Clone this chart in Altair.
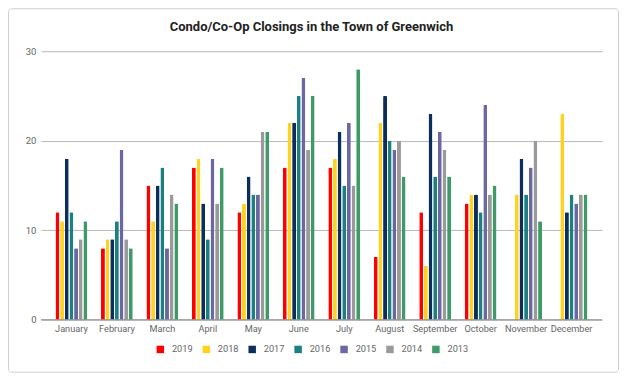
import altair as alt
import pandas as pd

months = ["January", "February", "March", "April", "May", "June",
          "July", "August", "September", "October", "November", "December"]
years = ["2019", "2018", "2017", "2016", "2015", "2014", "2013"]
colors = ["#ff0000", "#ffd21f", "#0b2e5e", "#1a8080", "#6b67a3", "#9a9a9a", "#3e9b67"]
title_text = "Condo/Co-Op Closings in the Town of Greenwich"

v2019 = [12, 8, 15, 17, 12, 17, 17, 7, 12, 13, None, None]
v2018 = [11, 9, 11, 18, 13, 22, 18, 22, 6, 14, 14, 23]
v2017 = [18, 9, 15, 13, 16, 22, 21, 25, 23, 14, 18, 12]
v2016 = [12, 11, 17, 9, 14, 25, 15, 20, 16, 12, 14, 14]
v2015 = [8, 19, 8, 18, 14, 27, 22, 19, 21, 24, 17, 13]
v2014 = [9, 9, 14, 13, 21, 19, 15, 20, 19, 14, 20, 14]
v2013 = [11, 8, 13, 17, 21, 25, 28, 16, 16, 15, 11, 14]

series = [v2019, v2018, v2017, v2016, v2015, v2014, v2013]
rows = []
for y, vals in zip(years, series):
    for m, v in zip(months, vals):
        if v is not None:
            rows.append({"Month": m, "Year": y, "Closings": v})
df = pd.DataFrame(rows)

W, H = 562, 269
PL, PT = 33, 43
PR, PB = 17, 53

FONT = "Roboto"

bars = alt.Chart(df).mark_bar(cornerRadiusTopLeft=1, cornerRadiusTopRight=1).encode(
    x=alt.X("Month:N", sort=months, title=None,
            scale=alt.Scale(paddingInner=0.3, paddingOuter=0.32),
            axis=alt.Axis(labelAngle=0, ticks=False, domain=False,
                          labelFontSize=9.2, labelColor="#666", labelFont=FONT,
                          labelPadding=5)),
    xOffset=alt.XOffset("Year:N", sort=years, scale=alt.Scale(paddingInner=0.15)),
    y=alt.Y("Closings:Q", title=None,
            scale=alt.Scale(domain=[0, 30]),
            axis=alt.Axis(values=[0, 10, 20, 30], ticks=False, domain=False,
                          labelFontSize=9.5, labelColor="#666", labelFont=FONT,
                          labelPadding=5, gridColor="#b8b8b8", gridWidth=1)),
    color=alt.Color("Year:N", sort=years,
                    scale=alt.Scale(domain=years, range=colors),
                    legend=alt.Legend(title=None, orient="none", direction="horizontal",
                                      legendX=115, legendY=294, symbolType="square",
                                      symbolSize=56, symbolStrokeWidth=0,
                                      labelFontSize=9.2, labelColor="#666", labelFont=FONT,
                                      labelOffset=7, columnPadding=9, padding=0)),
)

baseline = alt.Chart(pd.DataFrame({"y": [0]})).mark_rule(color="#888", strokeWidth=1).encode(
    y="y:Q", x=alt.value(0), x2=alt.value(W)
)

border = alt.Chart(pd.DataFrame({"a": [0]})).mark_rect(
    fill="transparent", stroke="#cfcfcf", strokeWidth=1, cornerRadius=3
).encode(
    x=alt.value(-PL + 0.5), x2=alt.value(W + PR - 0.5),
    y=alt.value(-PT + 0.5), y2=alt.value(H + PB - 0.5)
)

title = alt.Chart(pd.DataFrame({"t": [title_text]})).mark_text(
    font=FONT, fontSize=13, fontWeight="bold", color="#222",
    align="center", baseline="middle"
).encode(text="t:N", x=alt.value(271), y=alt.value(-24))

chart = alt.layer(border, bars, baseline, title).properties(
    width=W, height=H,
    autosize=alt.AutoSizeParams(type="none"),
    padding={"left": PL, "top": PT, "right": PR, "bottom": PB},
).configure_view(stroke=None)

chart.save("out.html", embed_options={"renderer": "svg", "actions": False})
